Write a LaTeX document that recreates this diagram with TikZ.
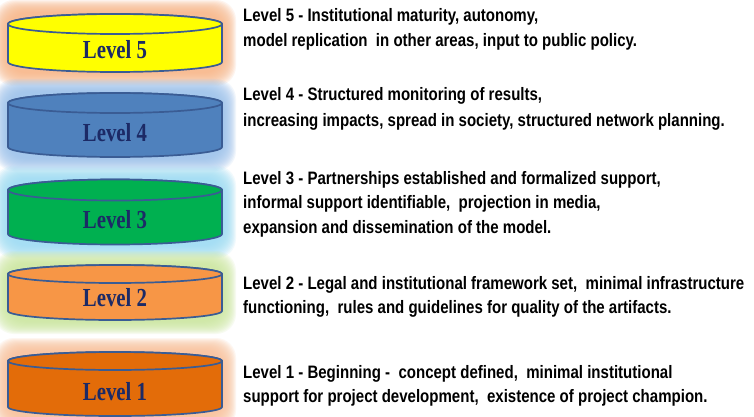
\documentclass[tikz,border=0pt]{standalone}
\usepackage{fontspec}
\newfontfamily\descfont[FakeStretch=0.835]{Liberation Sans}
\newfontfamily\lvlfont[FakeStretch=0.8]{Liberation Serif}
\definecolor{lvltext}{HTML}{1C2A66}
\definecolor{cylborder}{HTML}{3A5C94}
\definecolor{fill5}{HTML}{FFFF00}
\definecolor{fill4}{HTML}{4F81BD}
\definecolor{fill3}{HTML}{00B050}
\definecolor{fill2}{HTML}{F79646}
\definecolor{fill1}{HTML}{E36C09}
\definecolor{glow5}{HTML}{F8B888}
\definecolor{glow4}{HTML}{9DC3EC}
\definecolor{glow3}{HTML}{9EDDF4}
\definecolor{glow2}{HTML}{CDE8A0}
\definecolor{glow1}{HTML}{F9C29A}
\tikzset{
  desc/.style={anchor=base west, inner sep=0pt, text=black,
    font=\descfont\bfseries\fontsize{18}{25}\selectfont},
  lvl/.style={inner sep=0pt, text=lvltext,
    font=\lvlfont\bfseries\fontsize{26}{30}\selectfont},
  cylline/.style={draw=cylborder, line width=1.7pt},
}
% #1 top centre y, #2 bottom centre y, #3 y radius, #4 fill, #5 glow
\newcommand\mycyl[5]{%
  \foreach \k in {0,...,13}{
    \fill[#5, opacity=0.14, rounded corners=20pt]
      (8-14+\k, -#1+#3+14-\k) rectangle (222+14-\k, -#2-#3-14+\k);
  }
  \filldraw[fill=#4, cylline] (8,-#1) -- (8,-#2)
    arc[start angle=180, end angle=360, x radius=107, y radius=#3]
    -- (222,-#1)
    arc[start angle=0, end angle=180, x radius=107, y radius=#3] -- cycle;
  \filldraw[fill=#4, cylline] (115,-#1) ellipse[x radius=107, y radius=#3];
}
\begin{document}
\begin{tikzpicture}[x=1pt,y=1pt]
\useasboundingbox (0,0) rectangle (754,-417);
\fill[white] (0,0) rectangle (754,-417);

\mycyl{24}{62}{10}{fill5}{glow5}
\mycyl{103}{147}{10}{fill4}{glow4}
\mycyl{190}{234}{10.5}{fill3}{glow3}
\mycyl{274}{311}{9}{fill2}{glow2}
\mycyl{361}{407}{9}{fill1}{glow1}

\node[lvl] (l5) at (115,-50) {Level 5};
\node[lvl] (l4) at (115,-133) {Level 4};
\node[lvl] (l3) at (115,-220) {Level 3};
\node[lvl] (l2) at (115,-298) {Level 2};
\node[lvl] (l1) at (115,-392) {Level 1};

\node[desc] (t5a) at (243,-22) {Level 5 - Institutional maturity, autonomy,};
\node[desc] (t5b) at (243,-47) {model replication\ \ in other areas, input to public policy.};

\node[desc] (t4a) at (243,-101) {Level 4 - Structured monitoring of results,};
\node[desc] (t4b) at (243,-126) {increasing impacts, spread in society, structured network planning.};

\node[desc] (t3a) at (243,-184) {Level 3 - Partnerships established and formalized support,};
\node[desc] (t3b) at (243,-208.5) {informal support identifiable,\ \ projection in media,};
\node[desc] (t3c) at (243,-233) {expansion and dissemination of the model.};

\node[desc] (t2a) at (243,-289) {Level 2 - Legal and institutional framework set,\ \ minimal infrastructure};
\node[desc] (t2b) at (243,-313) {functioning,\ \ rules and guidelines for quality of the artifacts.};

\node[desc] (t1a) at (243,-378) {Level 1 - Beginning -\ \ concept defined,\ \ minimal institutional};
\node[desc] (t1b) at (243,-402) {support for project development,\ \ existence of project champion.};
\end{tikzpicture}
\end{document}
